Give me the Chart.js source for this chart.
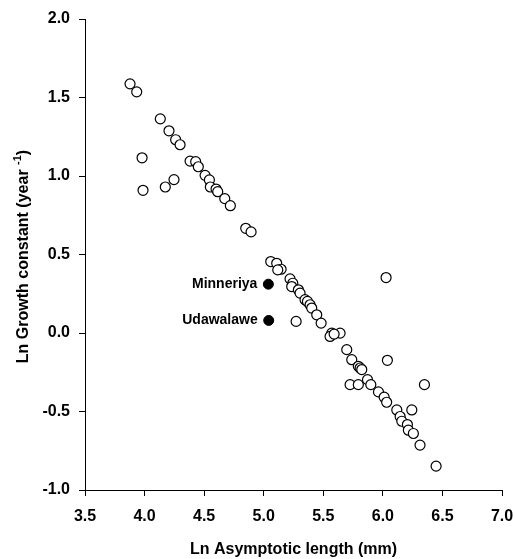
<!DOCTYPE html>
<html>
<head>
<meta charset="utf-8">
<script src="https://cdn.jsdelivr.net/npm/chart.js@4.4.1/dist/chart.umd.min.js"></script>
<style>
  body { margin: 0; background: #fff; }
  #wrap { width: 515px; height: 559px; }
</style>
</head>
<body>
<div id="wrap"><canvas id="growth"></canvas></div>
<script>
// ln asymptotic length (mm) vs ln growth constant, open circles
var lnLength = [3.878, 3.934, 4.132, 4.205, 4.261, 4.298, 3.979, 4.382, 4.429, 4.451,
  4.508, 4.544, 4.552, 4.600, 4.614, 4.673, 4.720, 4.247, 4.174, 3.987,
  4.849, 4.894, 5.059, 5.109, 5.146, 5.118, 5.221, 5.244, 5.235, 5.291,
  5.305, 5.347, 5.367, 5.389, 5.403, 5.445, 5.482, 5.272, 5.571, 5.641,
  5.557, 5.591, 6.027, 5.697, 5.739, 5.794, 5.809, 5.823, 6.038, 5.725,
  5.794, 5.871, 5.899, 5.963, 6.011, 6.032, 6.117, 6.243, 6.349, 6.145,
  6.159, 6.206, 6.214, 6.256, 6.312, 6.447];
var lnGrowth = [1.587, 1.536, 1.364, 1.288, 1.231, 1.199, 1.116, 1.095, 1.091, 1.059,
  1.004, 0.975, 0.930, 0.917, 0.900, 0.856, 0.811, 0.977, 0.930, 0.909,
  0.667, 0.644, 0.455, 0.444, 0.406, 0.402, 0.345, 0.317, 0.296, 0.275,
  0.254, 0.212, 0.201, 0.180, 0.159, 0.116, 0.063, 0.074, -0.001, -0.001,
  -0.022, -0.007, 0.353, -0.106, -0.170, -0.212, -0.223, -0.233, -0.174, -0.329,
  -0.329, -0.297, -0.329, -0.375, -0.409, -0.441, -0.490, -0.490, -0.329, -0.532,
  -0.562, -0.583, -0.619, -0.640, -0.714, -0.848];

// the two study sites, filled circles
var siteNames = ['Minneriya', 'Udawalawe'];
var siteLength = [5.039, 5.042];
var siteGrowth = [0.311, 0.080];

var xMin = 3.5, xMax = 7.0, xStep = 0.5;
var yMin = -1.0, yMax = 2.0, yStep = 0.5;

var FAMILY = 'Arial, "Liberation Sans", sans-serif';
var tickFont = { family: FAMILY, size: 16, weight: 'bold' };

function toPoints(xs, ys) {
  return xs.map(function (x, i) { return { x: x, y: ys[i] }; });
}

// site names next to the filled dots + y title with superscript
var labelPlugin = {
  id: 'labels',
  afterDatasetsDraw: function (chart) {
    var ctx = chart.ctx;
    var xs = chart.scales.x, ys = chart.scales.y;
    ctx.save();
    ctx.fillStyle = '#000';
    ctx.font = 'bold 14px ' + FAMILY;
    ctx.textAlign = 'right';
    ctx.textBaseline = 'middle';
    siteNames.forEach(function (name, i) {
      ctx.fillText(name, xs.getPixelForValue(siteLength[i]) - 11, ys.getPixelForValue(siteGrowth[i]));
    });
    ctx.restore();
  },
  afterDraw: function (chart) {
    var ctx = chart.ctx;
    var area = chart.chartArea;
    var main = 'Ln Growth constant (year ';
    var sup = '-1';
    var tail = ')';
    ctx.save();
    ctx.fillStyle = '#000';
    ctx.translate(24, (area.top + area.bottom) / 2 + 2);
    ctx.rotate(-Math.PI / 2);
    ctx.textBaseline = 'middle';
    ctx.textAlign = 'left';
    ctx.font = 'bold 16px ' + FAMILY;
    var w1 = ctx.measureText(main).width, w3 = ctx.measureText(tail).width;
    ctx.font = 'bold 11px ' + FAMILY;
    var w2 = ctx.measureText(sup).width;
    var x0 = -(w1 + w2 + w3) / 2;
    ctx.font = 'bold 16px ' + FAMILY;
    ctx.fillText(main, x0, 0);
    ctx.fillText(tail, x0 + w1 + w2, 0);
    ctx.font = 'bold 11px ' + FAMILY;
    ctx.fillText(sup, x0 + w1, -6);
    ctx.restore();
  }
};

new Chart(document.getElementById('growth').getContext('2d'), {
  type: 'scatter',
  data: {
    datasets: [{
      label: 'species',
      data: toPoints(lnLength, lnGrowth),
      pointRadius: 5,
      pointHoverRadius: 5,
      borderWidth: 1.2,
      backgroundColor: '#fff',
      borderColor: '#000'
    }, {
      label: 'sites',
      data: toPoints(siteLength, siteGrowth),
      pointRadius: 5,
      pointHoverRadius: 5,
      borderWidth: 1,
      backgroundColor: '#000',
      borderColor: '#000'
    }]
  },
  options: {
    responsive: true,
    maintainAspectRatio: false,
    animation: false,
    devicePixelRatio: 1,
    layout: { autoPadding: false, padding: { left: 0, right: 13, top: 19, bottom: 0 } },
    plugins: { legend: { display: false }, tooltip: { enabled: false } },
    scales: {
      x: {
        type: 'linear',
        min: xMin, max: xMax,
        afterFit: function (s) { s.height = 69; s.paddingLeft = 0; s.paddingRight = 0; },
        ticks: { stepSize: xStep, color: '#000', font: tickFont, padding: 11,
          maxRotation: 0, callback: function (v) { return v.toFixed(1); } },
        grid: { drawOnChartArea: false, drawTicks: true, tickLength: 6, color: '#000' },
        border: { display: true, color: '#000', width: 1 },
        title: { display: true, text: 'Ln Asymptotic length (mm)', color: '#000', font: tickFont,
          padding: { top: 4, bottom: 0 } }
      },
      y: {
        type: 'linear',
        min: yMin, max: yMax,
        afterFit: function (s) { s.width = 85; s.paddingTop = 0; s.paddingBottom = 0; },
        ticks: { stepSize: yStep, color: '#000', font: tickFont, padding: 9,
          callback: function (v) { return v.toFixed(1); } },
        grid: { drawOnChartArea: false, drawTicks: true, tickLength: 6, color: '#000' },
        border: { display: true, color: '#000', width: 1 }
      }
    }
  },
  plugins: [labelPlugin]
});
</script>
</body>
</html>
